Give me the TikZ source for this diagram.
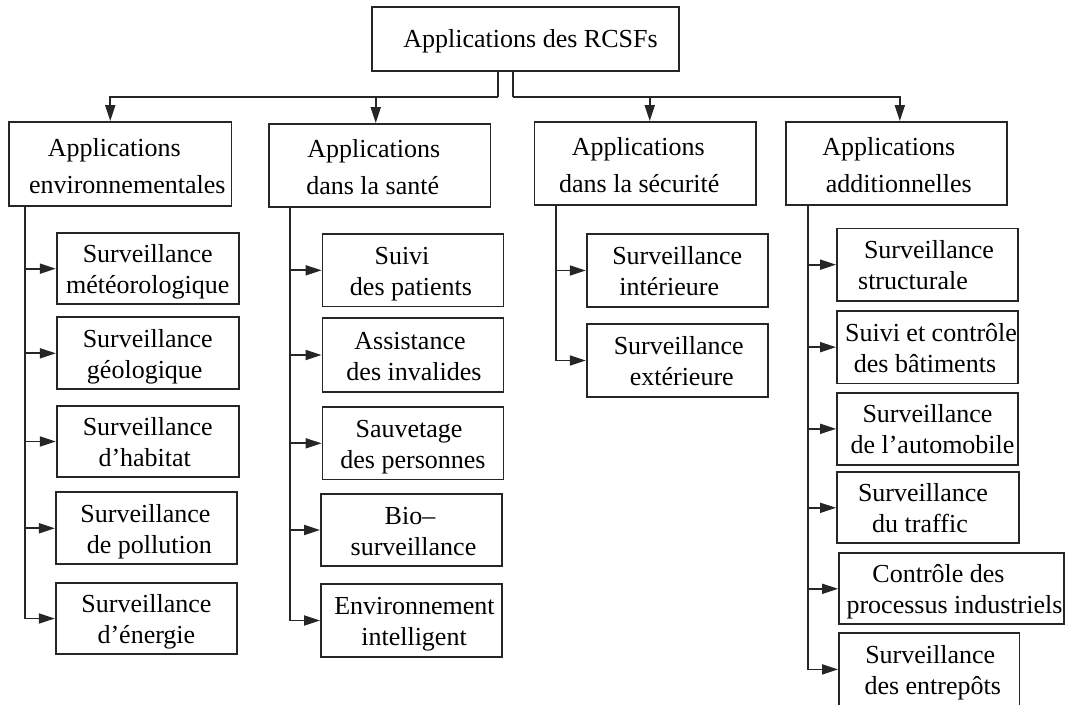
\documentclass[tikz,border=0pt]{standalone}
\usepackage{fontspec}
\setmainfont{Liberation Serif}
\usetikzlibrary{arrows.meta}

% shift one line of a centred block sideways by #1 pt
\newcommand\sh[2]{\hbox{\kern#1pt\relax#2\kern-#1pt\relax}}
% two-line text of a leaf box, with fixed top and bottom struts
\newcommand\boxtext[4]{\rule{0pt}{26pt}\sh{#1}{#2}\\\sh{#3}{#4}\rule[-7pt]{0pt}{7pt}}
% two-line text of a category box
\newcommand\headtext[4]{\rule{0pt}{28pt}\sh{#1}{#2}\\\sh{#3}{#4}\rule[-7pt]{0pt}{7pt}}

\tikzset{
  boxnode/.style={draw=black!85, line width=1.8pt, inner sep=0pt, align=center,
                  font=\fontsize{26pt}{31pt}\selectfont},
  headnode/.style={boxnode, font=\fontsize{26pt}{37pt}\selectfont},
  leafa/.style={boxnode, minimum width=182pt, minimum height=72pt},
  leafb/.style={boxnode, minimum width=181pt, minimum height=72.5pt},
  link/.style={draw=black!85, line width=1.8pt},
  arr/.style={link, -{Triangle[length=16pt,width=10pt]}},
}

\begin{document}
\begin{tikzpicture}[x=1pt, y=1pt]
\useasboundingbox (0,0) rectangle (1065,-704);

% root
\node[boxnode, minimum width=307pt, minimum height=64pt] (root) at (525.5,-39)
  {\rule[-6.6pt]{0pt}{30pt}\sh{5}{Applications des RCSFs}};

% categories
\node[headnode, minimum width=222.5pt, minimum height=84pt] (env) at (120.25,-164)
  {\headtext{-6}{Applications}{7}{environnementales}};
\node[headnode, minimum width=221.5pt, minimum height=83pt] (sante) at (379.75,-165.5)
  {\headtext{-6}{Applications}{-7}{dans la santé}};
\node[headnode, minimum width=221.5pt, minimum height=83pt] (secu) at (645.25,-163.5)
  {\headtext{-7}{Applications}{-6}{dans la sécurité}};
\node[headnode, minimum width=221pt, minimum height=83pt] (addi) at (896.8,-163.5)
  {\headtext{-8}{Applications}{2}{additionnelles}};

% environment leaves
\node[leafa, minimum height=71.3pt] (e1) at (147.75,-268.65) {\boxtext{0}{Surveillance}{0}{météorologique}};
\node[leafa] (e2) at (147.75,-353.3) {\boxtext{0}{Surveillance}{-3}{géologique}};
\node[leafa, minimum height=71.6pt] (e3) at (147.75,-441.5) {\boxtext{0}{Surveillance}{-3}{d’habitat}};
\node[leafa, minimum width=181.2pt] (e4) at (146.4,-528.3) {\boxtext{-1}{Surveillance}{3}{de pollution}};
\node[leafa, minimum width=181.2pt, minimum height=71.6pt] (e5) at (146.4,-618.5) {\boxtext{0}{Surveillance}{0}{d’énergie}};

% health leaves
\node[leafb] (s1) at (413,-270.3) {\boxtext{-11}{Suivi}{-2}{des patients}};
\node[leafb, minimum height=73.4pt] (s2) at (413,-355) {\boxtext{-3}{Assistance}{1}{des invalides}};
\node[leafb] (s3) at (413,-443.3) {\boxtext{-4}{Sauvetage}{0}{des personnes}};
\node[leafb] (s4) at (411.5,-530) {\boxtext{-1.5}{Bio–}{2}{surveillance}};
\node[leafb] (s5) at (411.5,-620.5) {\boxtext{3}{Environnement}{2.5}{intelligent}};

% security leaves
\node[leafb] (c1) at (677.25,-270.5) {\boxtext{0}{Surveillance}{-8}{intérieure}};
\node[leafb] (c2) at (677.25,-360.5) {\boxtext{1.5}{Surveillance}{4.5}{extérieure}};

% additional leaves
\node[leafb] (a1) at (927.5,-264.65) {\boxtext{1.5}{Surveillance}{-14.5}{structurale}};
\node[leafb] (a2) at (927.5,-347.15) {\boxtext{3.5}{Suivi et contrôle}{-2.5}{des bâtiments}};
\node[leafb] (a3) at (927.5,-428.85) {\boxtext{0}{Surveillance}{5}{de l’automobile}};
\node[leafb, minimum width=182pt, minimum height=71pt] (a4) at (928,-507.8) {\boxtext{-5}{Surveillance}{-8}{du traffic}};
\node[boxnode, minimum width=225pt, minimum height=71pt] (a5) at (951.5,-588.8) {\boxtext{-13}{Contrôle des}{3}{processus industriels}};
\node[leafb, minimum width=180.5pt, minimum height=72.2pt] (a6) at (929.25,-669.4) {\boxtext{1}{Surveillance}{3.5}{des entrepôts}};

% root to categories
\draw[link] ([xshift=-27.5pt]root.south) -- ++(0,-25) coordinate (busL);
\draw[link] ([xshift=-12.5pt]root.south) -- ++(0,-25) coordinate (busR);
\draw[arr] (busL) -| ([xshift=-10pt]env.north);
\draw[arr] (busL) -| ([xshift=-4pt]sante.north);
\draw[arr] (busR) -| ([xshift=4.5pt]secu.north);
\draw[arr] (busR) -| ([xshift=3pt]addi.north);

% spines to leaves
\coordinate (envsp) at ([xshift=-95.45pt]env.south);
\draw[arr] (envsp) |- (e5.west);
\foreach \n in {e1,e2,e3,e4} \draw[arr] (envsp |- \n.west) -- (\n.west);

\coordinate (santesp) at ([xshift=-89.75pt]sante.south);
\draw[arr] (santesp) |- (s5.west);
\foreach \n in {s1,s2,s3,s4} \draw[arr] (santesp |- \n.west) -- (\n.west);

\coordinate (secusp) at ([xshift=-89.45pt]secu.south);
\draw[arr] (secusp) |- (c2.west);
\draw[arr] (secusp |- c1.west) -- (c1.west);

\coordinate (addisp) at ([xshift=-89pt]addi.south);
\draw[arr] (addisp) |- (a6.west);
\foreach \n in {a1,a2,a3,a4,a5} \draw[arr] (addisp |- \n.west) -- (\n.west);
\end{tikzpicture}
\end{document}
